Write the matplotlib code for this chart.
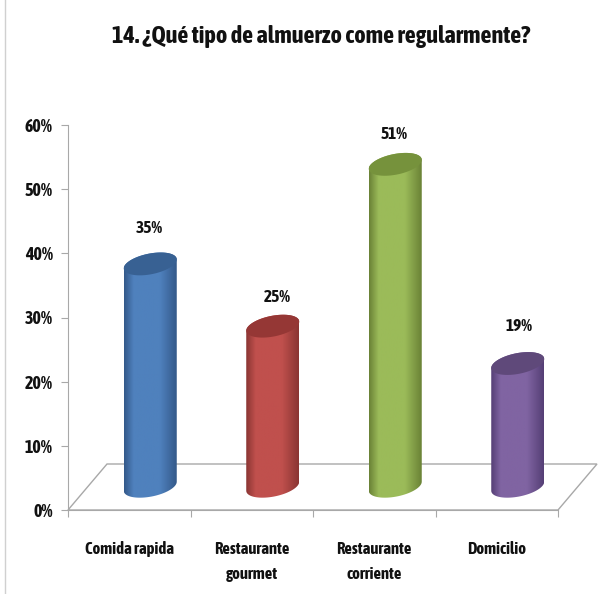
"""
14. ¿Qué tipo de almuerzo come regularmente? - cilindros tipo Excel 3D
"""

import matplotlib.pyplot as plt
import numpy as np
from matplotlib.colors import LinearSegmentedColormap
from matplotlib.patches import PathPatch, Polygon
from matplotlib.path import Path

plt.rcParams["font.family"] = ["Asap Condensed", "Lato", "DejaVu Sans"]

TITLE = "14. ¿Qué tipo de almuerzo come regularmente?"
CATEGORIES = ["Comida rapida", "Restaurante\ngourmet", "Restaurante\ncorriente", "Domicilio"]
VALUES = [35, 25, 51, 19]
VALUE_LABELS = ["35%", "25%", "51%", "19%"]
Y_TICKS = [0, 10, 20, 30, 40, 50, 60]
Y_TICK_LABELS = ["0%", "10%", "20%", "30%", "40%", "50%", "60%"]

COLORS = ["#4F81BD", "#C0504D", "#9BBB59", "#8064A2"]
DARK = ["#34598A", "#8A3533", "#6A8236", "#553F75"]
TOPS = ["#386193", "#953735", "#76923C", "#5F497A"]

W, H = 614, 594
AX_L, AX_R, AX_T, AX_B = 68, 558, 125, 510
PX_X = (AX_R - AX_L) / 4      # px por categoría
PX_Y = (AX_B - AX_T) / 60     # px por 1%

fig = plt.figure(figsize=(W / 100, H / 100), dpi=100, facecolor="white")
ax = fig.add_axes([AX_L / W, 1 - AX_B / H, (AX_R - AX_L) / W, (AX_B - AX_T) / H])
ax.set_facecolor("none")

# ── marco de la imagen ──
fig.add_artist(plt.Line2D([5 / W, 5 / W], [0, 1], color="#D0D0D0", lw=1))

# ── suelo 3D ──
DEPTH_X = 39 / PX_X
DEPTH_Y = 46 / PX_Y
ax.add_patch(Polygon([(0, 0), (DEPTH_X, DEPTH_Y), (4 + DEPTH_X, DEPTH_Y), (4, 0)],
                     closed=True, facecolor="white", edgecolor="#A8A8A8", lw=1,
                     clip_on=False, zorder=1))

# ── cilindros ──
RX = 26.5 / PX_X
RY = 10.5 / PX_Y
SHEAR = 0.17 * PX_X / PX_Y
BASE = 3.7
TOP_BASE = 4.4      # la perspectiva comprime un poco la altura
HEIGHT_SCALE = 0.97
OFFSET = 21 / PX_X
LABEL_DX = [0.0, 0.05, 0.0, 0.02]
LABEL_DY = [8.9, 8.2, 7.6, 9.6]


def ellipse_xy(cx, cy, t):
    x = RX * np.cos(t)
    y = RY * np.sin(t) + SHEAR * x
    return cx + x, cy + y


for i, value in enumerate(VALUES):
    cx = i + 0.5 + OFFSET
    top = TOP_BASE + value * HEIGHT_SCALE

    # contorno: media elipse inferior + media elipse superior
    xb, yb = ellipse_xy(cx, BASE, np.linspace(np.pi, 2 * np.pi, 40))
    xt, yt = ellipse_xy(cx, top, np.linspace(0, np.pi, 40))
    body = np.column_stack([np.r_[xb, xt], np.r_[yb, yt]])
    patch = PathPatch(Path(np.r_[body, body[:1]]), facecolor="none", edgecolor="none",
                      clip_on=False, zorder=3)
    ax.add_patch(patch)

    cmap = LinearSegmentedColormap.from_list(
        f"c{i}", [(0, DARK[i]), (0.18, COLORS[i]), (0.68, COLORS[i]), (1, DARK[i])])
    grad = np.linspace(0, 1, 128).reshape(1, -1)
    im = ax.imshow(grad, cmap=cmap, aspect="auto", zorder=3,
                   extent=(cx - RX, cx + RX, BASE - RY * 2, top + RY * 2))
    im.set_clip_path(patch)

    xe, ye = ellipse_xy(cx, top, np.linspace(0, 2 * np.pi, 80))
    ax.fill(xe, ye, color=TOPS[i], lw=0, zorder=4, clip_on=False)

    ax.text(cx - 0.01 + LABEL_DX[i], value + LABEL_DY[i], VALUE_LABELS[i], ha="center", va="center",
            fontsize=12.5, fontweight="bold", color="#111111")

ax.set_xlim(0, 4)
ax.set_ylim(0, 60)

# ── ejes ──
for side in ("top", "right"):
    ax.spines[side].set_visible(False)
for side in ("left", "bottom"):
    ax.spines[side].set_color("#A8A8A8")

ax.set_yticks(Y_TICKS)
ax.set_yticklabels(Y_TICK_LABELS, fontsize=13, fontweight="bold", color="#111111")
ax.tick_params(axis="y", length=5, color="#A8A8A8", pad=6)

ax.set_xticks(range(5))
ax.set_xticklabels([])
ax.tick_params(axis="x", which="major", length=5, color="#A8A8A8")
ax.set_xticks(np.arange(4) + 0.5, minor=True)
ax.set_xticklabels(CATEGORIES, minor=True, fontsize=12, fontweight="bold", color="#111111",
                   linespacing=1.75, va="top")
ax.tick_params(axis="x", which="minor", length=0, pad=22)

fig.text(321 / W, 1 - 37 / H, TITLE, ha="center", va="center", fontsize=17.5,
         fontweight="bold", color="#111111")

plt.savefig("out.png", dpi=100)
plt.close()
